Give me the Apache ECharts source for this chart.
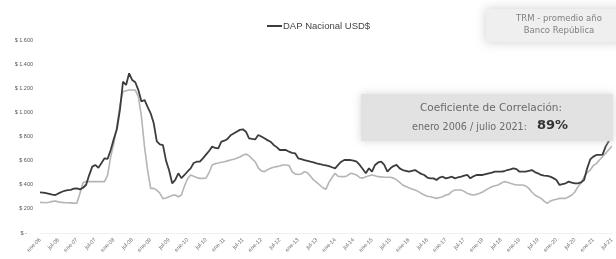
<!DOCTYPE html>
<html><head><meta charset="utf-8">
<script src="https://cdn.jsdelivr.net/npm/echarts@6/dist/echarts.min.js"></script>
<style>html,body{margin:0;padding:0;background:#fff}#c{width:616px;height:259px}</style>
</head><body><div id="c"></div>
<script>
const monthNames = ['ene','feb','mar','abr','may','jun','jul','ago','sep','oct','nov','dic'];
const years = ['06','07','08','09','10','11','12','13','14','15','16','17','18','19','20','21'];
const lastYearMonths = 7;
const categories = [];
years.forEach((y, i) => {
  const n = i === years.length - 1 ? lastYearMonths : 12;
  for (let m = 0; m < n; m++) categories.push(monthNames[m] + '-' + y);
});

const yTicks = [0, 200, 400, 600, 800, 1000, 1200, 1400, 1600];

const dapNacional = [
  337,335,330,325,318,315,328,340,350,355,358,368,
  370,362,375,400,480,550,564,540,580,619,615,688,
  780,860,1020,1254,1227,1324,1268,1250,1185,1090,1103,1045,
  992,909,760,735,728,600,520,412,440,495,455,481,
  510,536,580,591,591,619,650,680,716,705,702,757,
  765,780,810,825,840,855,860,840,785,780,776,812,
  800,785,770,757,730,712,688,688,688,674,665,661,
  619,612,605,598,591,585,578,572,564,560,555,545,
  536,565,591,605,605,605,600,591,564,530,495,536,
  508,564,585,591,564,508,536,555,564,536,522,515,
  508,515,522,505,490,481,460,453,453,440,460,467,
  453,460,467,453,462,467,475,481,453,470,481,481,
  481,488,495,500,508,508,508,512,522,528,536,530,
  508,508,508,515,522,505,495,481,476,473,467,455,
  440,398,405,412,426,418,412,412,420,440,536,610,
  633,647,647,650,716,760,800
];

const trmPromedio = [
  254,253,251,255,262,265,258,254,252,251,250,248,
  246,329,417,426,426,426,426,426,426,426,480,633,
  740,880,1060,1171,1180,1185,1185,1185,1130,964,716,522,
  370,370,355,329,285,290,301,312,315,301,315,390,
  450,481,470,460,453,453,455,500,564,575,580,586,
  591,598,605,612,619,630,645,655,640,615,591,540,
  515,508,525,536,545,550,555,564,564,560,508,490,
  485,489,508,500,470,440,420,398,375,362,420,460,
  495,470,467,467,475,495,490,481,460,455,467,475,
  481,475,467,465,462,462,462,455,440,420,398,385,
  375,365,356,345,329,315,305,301,295,287,295,301,
  315,320,345,356,356,356,345,329,320,315,320,329,
  340,356,370,384,392,398,412,426,420,412,405,398,
  398,398,390,370,340,315,300,287,265,246,265,274,
  280,287,287,287,300,315,340,384,412,467,500,522,
  560,575,605,633,660,690,720
];

const chart = echarts.init(document.getElementById('c'), null, {renderer: 'canvas'});
const sans = "'Liberation Sans', Arial, sans-serif";
const gothic = "'DejaVu Sans', 'Liberation Sans', sans-serif";

chart.setOption({
  animation: false,
  backgroundColor: '#ffffff',
  legend: {
    data: ['DAP Nacional USD$'],
    left: 262, top: 16,
    itemWidth: 15, itemHeight: 2,
    icon: 'rect',
    textStyle: {fontFamily: sans, fontSize: 9.5, color: '#444', padding: [0,0,0,-4]}
  },
  grid: {left: 40, top: 40, width: 584, bottom: 26, containLabel: false},
  xAxis: {
    type: 'category',
    data: categories,
    boundaryGap: false,
    axisLine: {show: true, lineStyle: {color: '#f0f0f0', width: 1}},
    axisTick: {show: false},
    axisLabel: {interval: 5, rotate: 45, fontSize: 5.5, color: '#666', fontFamily: sans, margin: 6}
  },
  yAxis: {
    type: 'value',
    min: yTicks[0], max: yTicks[yTicks.length - 1], interval: 200,
    splitLine: {show: false},
    axisLine: {show: false},
    axisTick: {show: false},
    axisLabel: {
      fontSize: 5.5, color: '#555', fontFamily: sans, margin: 7,
      formatter: v => v === 0 ? '$ -    ' : '$ ' + v.toLocaleString('de-DE')
    }
  },
  series: [
    {
      name: 'TRM - promedio año', type: 'line', data: trmPromedio,
      symbol: 'none', lineStyle: {color: '#b5b5b5', width: 1.6}, itemStyle: {color: '#b5b5b5'}, z: 2
    },
    {
      name: 'DAP Nacional USD$', type: 'line', data: dapNacional,
      symbol: 'none', lineStyle: {color: '#3c3c3c', width: 1.8}, itemStyle: {color: '#3c3c3c'}, z: 3
    }
  ],
  graphic: [
    {
      type: 'rect', x: 486, y: 9, z: 10,
      shape: {width: 140, height: 33},
      style: {fill: '#efefef', shadowBlur: 10, shadowColor: 'rgba(200,200,200,0.9)'}
    },
    {
      type: 'text', x: 559, y: 14, z: 11,
      style: {text: 'TRM - promedio año', textAlign: 'center',
        fill: '#808080', font: '8.5px ' + gothic}
    },
    {
      type: 'text', x: 559, y: 26, z: 11,
      style: {text: 'Banco República', textAlign: 'center',
        fill: '#808080', font: '8.5px ' + gothic}
    },
    {
      type: 'rect', x: 361, y: 94, z: 10,
      shape: {width: 252, height: 47},
      style: {fill: '#e2e2e2', shadowBlur: 8, shadowColor: 'rgba(210,210,210,0.9)'}
    },
    {
      type: 'text', x: 491, y: 103, z: 11,
      style: {text: 'Coeficiente de Correlación:', textAlign: 'center',
        fill: '#6a6a6a', font: '10.5px ' + gothic}
    },
    {
      type: 'text', x: 412, y: 122, z: 11,
      style: {text: 'enero 2006 / julio 2021:', textAlign: 'left',
        fill: '#6a6a6a', font: '9.6px ' + gothic}
    },
    {
      type: 'text', x: 537, y: 119, z: 11,
      style: {text: '89%', textAlign: 'left',
        fill: '#333', font: 'bold 13px ' + gothic}
    }
  ]
});
</script></body></html>
